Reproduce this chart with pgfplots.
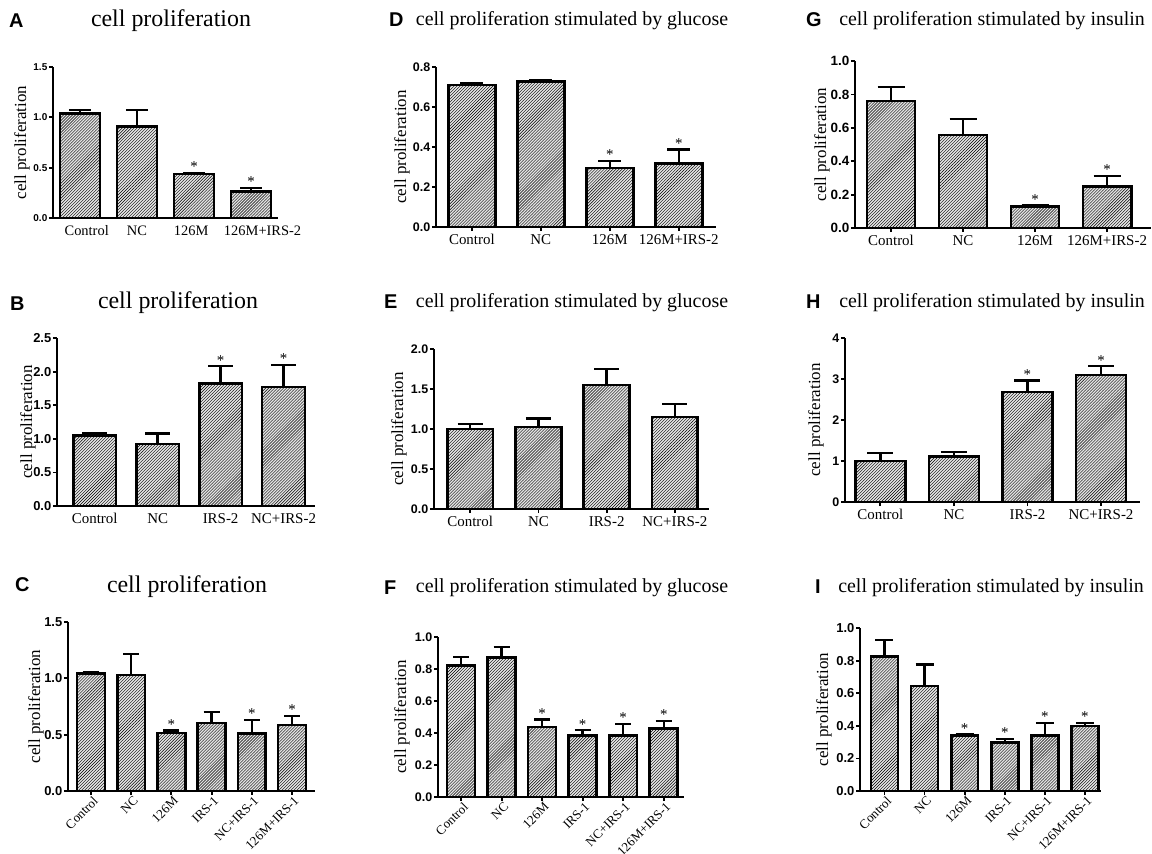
\documentclass[border=0pt]{standalone}
\usepackage{fontspec}
\setmainfont{Liberation Serif}
\setsansfont{Liberation Sans}
\usepackage{pgfplots}
\pgfplotsset{compat=1.18}
\usetikzlibrary{patterns}

\newcommand\ytf[1]{\sffamily\bfseries\fontsize{#1}{#1}\selectfont}
\newcommand\xtf{\rmfamily\fontsize{15}{15}\selectfont}
\newcommand\xtfr{\rmfamily\fontsize{13}{13}\selectfont}
\newcommand\ylf{\rmfamily\fontsize{17}{18}\selectfont}
\newcommand\ttlA{\rmfamily\fontsize{24}{26}\selectfont}
\newcommand\ttlD{\rmfamily\fontsize{20}{22}\selectfont}
\newcommand\letf{\sffamily\bfseries\fontsize{20}{22}\selectfont}
\newcommand\starf{\rmfamily\fontsize{15}{15}\selectfont}

\pgfplotsset{
  panel/.style 2 args={
    scale only axis, clip=false,
    axis x line*=bottom, axis y line*=left,
    axis line style={line width=1.8bp, -},
    every tick/.style={black, line width=1.8bp},
    tick align=outside,
    major tick length=4bp,
    ymin=0,
    yticklabel style={font=\ytf{#1}, inner sep=1.5bp, /pgf/number format/assume math mode=true,
      /pgf/number format/fixed, /pgf/number format/fixed zerofill,
      /pgf/number format/precision=1},
    ylabel={cell proliferation},
    ylabel style={font=\ylf, at={(axis description cs:0,0.5)}, anchor=center, yshift=#2},
  },
  four/.style={xtick={0,1,2,3}, xticklabel style={font=\xtf}},
  six/.style={xtick={0,1,2,3,4,5},
    xticklabels={Control,NC,126M,IRS-1,NC+IRS-1,126M+IRS-1},
    xticklabel style={font=\xtfr, rotate=45, anchor=north east, xshift=4bp, yshift=2bp}},
  bars/.style 2 args={ybar, bar width=#1, draw=black, line width=2.6bp,
    fill=gray!22, postaction={pattern=north east lines},
    error bars/.cd, y dir=plus, y explicit,
    error bar style={line width=2.4bp, black},
    error mark options={rotate=90, line width=2.4bp, black, mark size=#2}},
  stars/.style={draw=none, mark=none, nodes near coords={*},
    every node near coord/.append style={anchor=south, inner sep=0pt, yshift=1bp, font=\starf, black}},
}

\begin{document}
\begin{tikzpicture}
\useasboundingbox (0,0) rectangle (1152bp,-854bp);

% ---------------- A
\begin{axis}[panel={10}{31bp}, four, at={(53bp,-218bp)}, anchor=south west,
  width=225bp, height=151bp, xmin=-0.47, xmax=3.47, ymax=1.5, ytick={0,0.5,1,1.5},
  every x tick/.append style={draw=none},
  xtick={0.12,1,1.95,3.2},
  xticklabel style={font=\rmfamily\fontsize{14.5}{15}\selectfont},
  xticklabels={Control,NC,126M,126M+IRS-2}]
\addplot[bars={0.7}{11bp}] table[x=x,y=y,y error=e] {
x y e
0 1.040 0.035
1 0.910 0.165
2 0.436 0.013
3 0.266 0.034
};
\addplot[stars] coordinates {(2,0.449) (3,0.300)};
\end{axis}

% ---------------- D
\begin{axis}[panel={12.5}{34bp}, four, at={(436bp,-227bp)}, anchor=south west,
  width=280bp, height=160bp, xmin=-0.52, xmax=3.54, ymax=0.8, ytick={0,0.2,0.4,0.6,0.8},
  xticklabels={Control,NC,126M,126M+IRS-2}]
\addplot[bars={0.68}{11.5bp}] table[x=x,y=y,y error=e] {
x y e
0 0.711 0.009
1 0.728 0.007
2 0.295 0.035
3 0.318 0.070
};
\addplot[stars] coordinates {(2,0.330) (3,0.388)};
\end{axis}

% ---------------- G
\begin{axis}[panel={13.5}{33bp}, four, at={(855bp,-228bp)}, anchor=south west,
  width=296bp, height=167bp, xmin=-0.5, xmax=3.61, ymax=1.0, ytick={0,0.2,0.4,0.6,0.8,1.0},
  xticklabels={Control,NC,126M,126M+IRS-2}]
\addplot[bars={0.67}{13.5bp}] table[x=x,y=y,y error=e] {
x y e
0 0.760 0.086
1 0.558 0.094
2 0.128 0.008
3 0.248 0.064
};
\addplot[stars] coordinates {(2,0.136) (3,0.312)};
\end{axis}

% ---------------- B
\begin{axis}[panel={13}{29bp}, four, at={(57bp,-506bp)}, anchor=south west,
  width=258bp, height=168bp, xmin=-0.6, xmax=3.5, ymax=2.5, ytick={0,0.5,1,1.5,2,2.5},
  every x tick/.append style={draw=none},
  xticklabels={Control,NC,IRS-2,NC+IRS-2}]
\addplot[bars={0.68}{12.5bp}] table[x=x,y=y,y error=e] {
x y e
0 1.05 0.03
1 0.92 0.16
2 1.82 0.26
3 1.77 0.33
};
\addplot[stars] coordinates {(2,2.08) (3,2.10)};
\end{axis}

% ---------------- E
\begin{axis}[panel={12.5}{35bp}, four, at={(434bp,-509bp)}, anchor=south west,
  width=275bp, height=160bp, xmin=-0.53, xmax=3.5, ymax=2.0, ytick={0,0.5,1,1.5,2},
  xticklabels={Control,NC,IRS-2,NC+IRS-2}]
\addplot[bars={0.67}{12.5bp}] table[x=x,y=y,y error=e] {
x y e
0 1.000 0.060
1 1.025 0.105
2 1.550 0.200
3 1.150 0.160
};
\end{axis}

% ---------------- H
\begin{axis}[panel={12.5}{29bp}, four, at={(845bp,-502bp)}, anchor=south west,
  width=295bp, height=164bp, xmin=-0.48, xmax=3.53, ymax=4, ytick={0,1,2,3,4},
  yticklabel style={/pgf/number format/precision=0},
  xticklabels={Control,NC,IRS-2,NC+IRS-2}]
\addplot[bars={0.68}{13bp}] table[x=x,y=y,y error=e] {
x y e
0 1.00 0.19
1 1.11 0.11
2 2.68 0.28
3 3.10 0.21
};
\addplot[stars] coordinates {(2,2.96) (3,3.31)};
\end{axis}

% ---------------- C
\begin{axis}[panel={13}{32bp}, six, at={(68bp,-791bp)}, anchor=south west,
  width=247bp, height=169bp, xmin=-0.57, xmax=5.57, ymax=1.5, ytick={0,0.5,1,1.5}]
\addplot[bars={0.69}{8bp}] table[x=x,y=y,y error=e] {
x y e
0 1.043 0.010
1 1.028 0.190
2 0.514 0.023
3 0.605 0.095
4 0.508 0.121
5 0.585 0.083
};
\addplot[stars] coordinates {(2,0.537) (4,0.629) (5,0.668)};
\end{axis}

% ---------------- F
\begin{axis}[panel={12.5}{36bp}, six, at={(438bp,-797bp)}, anchor=south west,
  width=246bp, height=160bp, xmin=-0.57, xmax=5.5, ymax=1.0, ytick={0,0.2,0.4,0.6,0.8,1.0}]
\addplot[bars={0.69}{8bp}] table[x=x,y=y,y error=e] {
x y e
0 0.823 0.052
1 0.871 0.067
2 0.438 0.046
3 0.385 0.032
4 0.385 0.073
5 0.427 0.048
};
\addplot[stars] coordinates {(2,0.483) (3,0.417) (4,0.458) (5,0.475)};
\end{axis}

% ---------------- I
\begin{axis}[panel={13}{36bp}, six, at={(860bp,-791bp)}, anchor=south west,
  width=241bp, height=163bp, xmin=-0.61, xmax=5.4, ymax=1.0, ytick={0,0.2,0.4,0.6,0.8,1.0}]
\addplot[bars={0.67}{9bp}] table[x=x,y=y,y error=e] {
x y e
0 0.827 0.098
1 0.645 0.131
2 0.339 0.008
3 0.296 0.022
4 0.339 0.079
5 0.400 0.018
};
\addplot[stars] coordinates {(2,0.347) (3,0.318) (4,0.418) (5,0.418)};
\end{axis}

% ---------------- titles and panel letters
\node[anchor=base west, inner sep=0] at (9bp,-27bp) {\letf A};
\node[anchor=base west, inner sep=0] at (389bp,-26bp) {\letf D};
\node[anchor=base west, inner sep=0] at (806bp,-26bp) {\letf G};
\node[anchor=base west, inner sep=0] at (10bp,-310bp) {\letf B};
\node[anchor=base west, inner sep=0] at (384bp,-308bp) {\letf E};
\node[anchor=base west, inner sep=0] at (806bp,-308bp) {\letf H};
\node[anchor=base west, inner sep=0] at (15bp,-591bp) {\letf C};
\node[anchor=base west, inner sep=0] at (384bp,-594bp) {\letf F};
\node[anchor=base west, inner sep=0] at (815bp,-593bp) {\letf I};

\node[anchor=base, inner sep=0] at (171bp,-26bp) {\ttlA cell proliferation};
\node[anchor=base, inner sep=0] at (178bp,-308bp) {\ttlA cell proliferation};
\node[anchor=base, inner sep=0] at (187bp,-592bp) {\ttlA cell proliferation};
\node[anchor=base, inner sep=0] at (572bp,-25bp) {\ttlD cell proliferation stimulated by glucose};
\node[anchor=base, inner sep=0] at (572bp,-307bp) {\ttlD cell proliferation stimulated by glucose};
\node[anchor=base, inner sep=0] at (572bp,-592bp) {\ttlD cell proliferation stimulated by glucose};
\node[anchor=base, inner sep=0] at (992bp,-25bp) {\ttlD cell proliferation stimulated by insulin};
\node[anchor=base, inner sep=0] at (992bp,-307bp) {\ttlD cell proliferation stimulated by insulin};
\node[anchor=base, inner sep=0] at (991bp,-592bp) {\ttlD cell proliferation stimulated by insulin};
\end{tikzpicture}
\end{document}
